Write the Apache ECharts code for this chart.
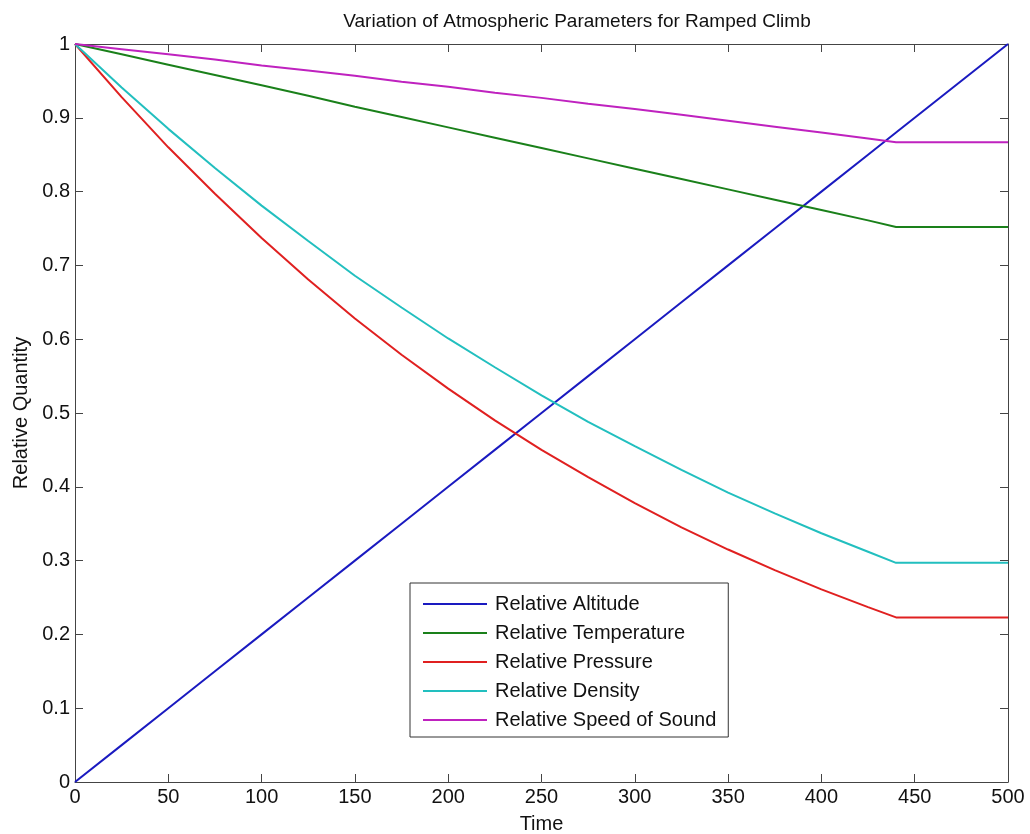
<!DOCTYPE html>
<html>
<head>
<meta charset="utf-8">
<script src="https://cdn.jsdelivr.net/npm/echarts@6/dist/echarts.min.js"></script>
<style>
  html, body { margin: 0; padding: 0; background: #fff; }
  #chart { width: 1030px; height: 834px; }
</style>
</head>
<body>
<div id="chart"></div>
<script>
// time samples (kink at t = 440)
var time = [0, 25, 50, 75, 100, 125, 150, 175, 200, 225, 250, 275, 300, 325, 350, 375, 400, 425, 440, 500];

var altitude    = [0, 0.05, 0.10, 0.15, 0.20, 0.25, 0.30, 0.35, 0.40, 0.45, 0.50, 0.55, 0.60, 0.65, 0.70, 0.75, 0.80, 0.85, 0.88, 1.00];
var temperature = [1, 0.986, 0.972, 0.958, 0.944, 0.930, 0.915, 0.901, 0.887, 0.873, 0.859, 0.845, 0.831, 0.817, 0.803, 0.789, 0.775, 0.761, 0.752, 0.752];
var pressure    = [1, 0.928, 0.860, 0.797, 0.737, 0.681, 0.628, 0.579, 0.533, 0.490, 0.450, 0.413, 0.378, 0.345, 0.315, 0.287, 0.261, 0.237, 0.223, 0.223];
var density     = [1, 0.941, 0.885, 0.832, 0.781, 0.733, 0.686, 0.643, 0.601, 0.562, 0.524, 0.488, 0.455, 0.423, 0.392, 0.364, 0.337, 0.312, 0.297, 0.297];
var soundSpeed  = [1, 0.993, 0.986, 0.979, 0.971, 0.964, 0.957, 0.949, 0.942, 0.934, 0.927, 0.919, 0.912, 0.904, 0.896, 0.888, 0.880, 0.872, 0.867, 0.867];

var seriesNames = ['Relative Altitude', 'Relative Temperature', 'Relative Pressure', 'Relative Density', 'Relative Speed of Sound'];
var seriesData = [altitude, temperature, pressure, density, soundSpeed];
var colors = ['#1a1ac0', '#1a801a', '#e02020', '#22bfbf', '#bf22bf'];

var font = 'Liberation Sans, Arial, sans-serif';

function pairs(ys) {
    return time.map(function (t, i) { return [t, ys[i]]; });
}

var chart = echarts.init(document.getElementById('chart'));

var axisLine = { show: true, onZero: false, lineStyle: { color: '#444', width: 1 } };
var tickIn = { show: true, inside: true, length: 8, lineStyle: { color: '#444' } };
var labelStyle = { fontFamily: font, fontSize: 20, color: '#111', margin: 5 };
var nameStyle = { fontFamily: font, fontSize: 20, color: '#111' };

var option = {
    backgroundColor: '#ffffff',
    color: colors,
    animation: false,
    title: {
        text: 'Variation of Atmospheric Parameters for Ramped Climb',
        left: 572,
        textAlign: 'center',
        top: 7,
        textStyle: { fontFamily: font, fontSize: 19, fontWeight: 'normal', color: '#111' }
    },
    grid: { left: 75, right: 22, top: 44, bottom: 52, containLabel: false, outerBoundsMode: 'none' },
    legend: {
        data: seriesNames,
        orient: 'vertical',
        left: 410,
        top: 583,
        padding: [11, 12, 7, 13],
        itemWidth: 64,
        itemHeight: 20,
        itemGap: 9,
        icon: 'path://M0,0H100V3H0Z',
        borderColor: '#333',
        borderWidth: 1,
        backgroundColor: '#fff',
        textStyle: { fontFamily: font, fontSize: 20, color: '#111', padding: [0, 0, 0, 3] }
    },
    xAxis: [{
        type: 'value',
        min: 0, max: 500, interval: 50,
        name: 'Time',
        nameLocation: 'middle',
        nameGap: 32,
        nameTextStyle: nameStyle,
        axisLine: axisLine,
        axisTick: tickIn,
        axisLabel: labelStyle,
        splitLine: { show: false }
    }, {
        type: 'value',
        position: 'top',
        min: 0, max: 500, interval: 50,
        axisLine: axisLine,
        axisTick: tickIn,
        axisLabel: { show: false },
        splitLine: { show: false }
    }],
    yAxis: [{
        type: 'value',
        min: 0, max: 1, interval: 0.1,
        name: 'Relative Quantity',
        nameLocation: 'middle',
        nameGap: 40,
        nameTextStyle: nameStyle,
        axisLine: axisLine,
        axisTick: tickIn,
        axisLabel: labelStyle,
        splitLine: { show: false }
    }, {
        type: 'value',
        position: 'right',
        min: 0, max: 1, interval: 0.1,
        axisLine: axisLine,
        axisTick: tickIn,
        axisLabel: { show: false },
        splitLine: { show: false }
    }],
    series: seriesNames.map(function (name, i) {
        return {
            name: name,
            type: 'line',
            xAxisIndex: 0,
            yAxisIndex: 0,
            symbol: 'none',
            smooth: false,
            lineStyle: { width: 2, color: colors[i] },
            data: pairs(seriesData[i])
        };
    })
};

chart.setOption(option);
</script>
</body>
</html>
